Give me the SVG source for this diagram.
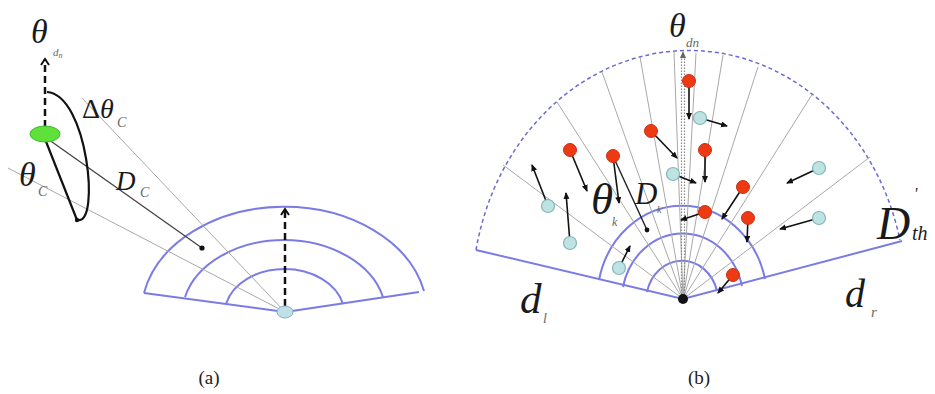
<svg xmlns="http://www.w3.org/2000/svg" width="935" height="394" viewBox="0 0 935 394">
<style>
.bl{fill:none;stroke:#7b7be6;stroke-width:2}
.gr{fill:none;stroke:#a8a8a8;stroke-width:1}
.ar{fill:none;stroke:#111;stroke-width:1.6;marker-end:url(#ah)}
.dash{fill:none;stroke:#111;stroke-width:2.5;stroke-dasharray:7,4;marker-end:url(#open)}
.red{fill:#ee3a12;stroke:#c8321a;stroke-width:1}
.cy{fill:#bfe3e3;stroke:#86b6b6;stroke-width:1.2}
.t{font-family:"Liberation Serif",serif;font-style:italic;fill:#1a1a1a}
.s{font-family:"Liberation Serif",serif;font-style:italic;fill:#666}
.cap{font-family:"Liberation Serif",serif;font-size:19px;fill:#222;text-anchor:middle}
</style>
<defs>
<marker id="ah" markerWidth="8" markerHeight="8" refX="6" refY="3" orient="auto" markerUnits="userSpaceOnUse"><path d="M0,0 L7,3 L0,6 Z" fill="#111"/></marker>
<marker id="open" markerWidth="12" markerHeight="12" refX="7" refY="5" orient="auto" markerUnits="userSpaceOnUse"><path d="M1,1 L7,5 L1,9" fill="none" stroke="#111" stroke-width="2"/></marker>
</defs>
<rect width="935" height="394" fill="#fff"/>

<!-- Panel (a) -->
<g id="fan-a">
<path class="bl" d="M144,293 A143,107 0 0 1 424,291"/>
<path class="bl" d="M185,297 A102,75 0 0 1 383,297"/>
<path class="bl" d="M226,304 A60,45 0 0 1 343,304"/>
<path class="bl" d="M144,293 L278,311 M292,311 L419,292"/>
</g>
<g id="connectors-a">
<line class="gr" x1="82" y1="98" x2="285" y2="312"/>
<line class="gr" x1="8" y1="168" x2="285" y2="312"/>
<line x1="45" y1="137" x2="202" y2="248" stroke="#444" stroke-width="1.3"/>
<circle cx="202" cy="248" r="2.6" fill="#111"/>
<line x1="45" y1="139" x2="77" y2="220" stroke="#111" stroke-width="2.2"/>
<circle cx="77" cy="220" r="2.2" fill="#111"/>
<path d="M47,92 C88,95 100,225 78,220" fill="none" stroke="#111" stroke-width="2.2"/>
<line class="dash" x1="45" y1="127" x2="45" y2="59"/>
<line class="dash" x1="285" y1="306" x2="285" y2="209"/>
</g>
<g id="node-c">
<ellipse cx="45" cy="134" rx="15" ry="8" fill="#5fe03a" stroke="#3cbc2a" stroke-width="1"/>
</g>
<g id="node-origin-a">
<ellipse cx="285" cy="312" rx="8" ry="6" fill="#bfe0e6" stroke="#8ab4be" stroke-width="1"/>
</g>
<g id="labels-a">
<text class="t" x="31" y="43" font-size="34">θ</text>
<text class="s" x="53" y="56" font-size="11">d<tspan font-size="8" dy="2">n</tspan></text>
<text class="t" x="82" y="118" font-size="28"><tspan font-style="normal">Δ</tspan>θ</text>
<text class="s" x="117" y="127" font-size="14">C</text>
<text class="t" x="19" y="186" font-size="34">θ</text>
<text class="s" x="38" y="196" font-size="14">C</text>
<text class="t" x="116" y="190" font-size="27">D</text>
<text class="s" x="140" y="197" font-size="14">C</text>
</g>

<!-- Panel (b) -->
<g id="fan-b">
<path d="M476,250 A217,247 0 0 1 900,240" fill="none" stroke="#6b6bd2" stroke-width="1.5" stroke-dasharray="4,3"/>
<path class="bl" d="M476,250 L683,299 L902,241"/>
<path class="bl" d="M599,280 A85,94 0 0 1 765,279"/>
<path class="bl" d="M623,287 A61,68 0 0 1 742,286"/>
<path class="bl" d="M647,292 A36,40 0 0 1 717,291"/>
</g>
<g id="rays-b">
<line class="gr" x1="683" y1="299" x2="503" y2="165"/>
<line class="gr" x1="683" y1="299" x2="557" y2="102"/>
<line class="gr" x1="683" y1="299" x2="602" y2="72"/>
<line class="gr" x1="683" y1="299" x2="640" y2="57"/>
<line class="gr" x1="683" y1="299" x2="674" y2="52"/>
<line class="gr" x1="683" y1="299" x2="696" y2="53"/>
<line class="gr" x1="683" y1="299" x2="723" y2="55"/>
<line class="gr" x1="683" y1="299" x2="758" y2="67"/>
<line class="gr" x1="683" y1="299" x2="813" y2="93"/>
<line class="gr" x1="683" y1="299" x2="870" y2="157"/>
<line x1="681.5" y1="297" x2="681.5" y2="56" stroke="#888" stroke-width="1.2" stroke-dasharray="1.5,1.5"/>
<line x1="684.5" y1="297" x2="684.5" y2="56" stroke="#888" stroke-width="1.2" stroke-dasharray="1.5,1.5"/>
<path d="M680,58 L683,51 L686,58 Z" fill="#666"/>
</g>
<g id="connectors-b">
<line class="ar" x1="570" y1="150" x2="587" y2="191"/>
<line class="ar" x1="613" y1="156" x2="619" y2="203"/>
<line x1="613" y1="156" x2="647" y2="230" stroke="#222" stroke-width="1.4"/>
<circle cx="647" cy="230" r="2.4" fill="#111"/>
<line class="ar" x1="651" y1="131" x2="677" y2="158"/>
<line class="ar" x1="689" y1="81" x2="689" y2="119"/>
<line class="ar" x1="705" y1="150" x2="705" y2="182"/>
<line class="ar" x1="743" y1="187" x2="722" y2="219"/>
<line class="ar" x1="705" y1="212" x2="681" y2="220"/>
<line class="ar" x1="748" y1="218" x2="747" y2="242"/>
<line class="ar" x1="733" y1="275" x2="718" y2="293"/>
<line class="ar" x1="548" y1="206" x2="532" y2="165"/>
<line class="ar" x1="570" y1="243" x2="566" y2="193"/>
<line class="ar" x1="619" y1="268" x2="630" y2="246"/>
<line class="ar" x1="673" y1="174" x2="696" y2="183"/>
<line class="ar" x1="700" y1="118" x2="727" y2="126"/>
<line class="ar" x1="819" y1="168" x2="787" y2="183"/>
<line class="ar" x1="819" y1="218" x2="780" y2="229"/>
</g>
<g id="nodes-red">
<circle id="r1" class="red" cx="570" cy="150" r="6.5"/>
<circle id="r2" class="red" cx="613" cy="156" r="6.5"/>
<circle id="r3" class="red" cx="651" cy="131" r="6.5"/>
<circle id="r4" class="red" cx="689" cy="81" r="6.5"/>
<circle id="r5" class="red" cx="705" cy="150" r="6.5"/>
<circle id="r6" class="red" cx="743" cy="187" r="6.5"/>
<circle id="r7" class="red" cx="705" cy="212" r="6.5"/>
<circle id="r8" class="red" cx="748" cy="218" r="6.5"/>
<circle id="r9" class="red" cx="733" cy="275" r="6.5"/>
</g>
<g id="nodes-blue">
<circle id="b1" class="cy" cx="548" cy="206" r="6.5"/>
<circle id="b2" class="cy" cx="570" cy="243" r="6.5"/>
<circle id="b3" class="cy" cx="619" cy="268" r="6.5"/>
<circle id="b4" class="cy" cx="673" cy="174" r="6.5"/>
<circle id="b5" class="cy" cx="700" cy="118" r="6.5"/>
<circle id="b6" class="cy" cx="819" cy="168" r="6.5"/>
<circle id="b7" class="cy" cx="819" cy="218" r="6.5"/>
</g>
<g id="node-origin-b">
<circle cx="683" cy="299" r="5" fill="#111"/>
</g>
<g id="labels-b">
<text class="t" x="669" y="37" font-size="34">θ</text>
<text class="s" x="686" y="47" font-size="13">dn</text>
<text class="t" x="591" y="214" font-size="45">θ</text>
<text class="s" x="612" y="226" font-size="12">k</text>
<text class="t" x="635" y="204" font-size="31">D</text>
<text class="s" x="657" y="213" font-size="10">k</text>
<text class="t" x="877" y="239" font-size="46">D</text>
<text class="t" x="914" y="199" font-size="16">'</text>
<text class="t" x="912" y="240" font-size="20">th</text>
<text class="t" x="520" y="313" font-size="43">d</text>
<text class="s" x="543" y="323" font-size="14">l</text>
<text class="t" x="845" y="307" font-size="40">d</text>
<text class="s" x="871" y="317" font-size="15">r</text>
</g>
<text class="cap" x="209" y="384">(a)</text>
<text class="cap" x="699" y="384">(b)</text>
</svg>
